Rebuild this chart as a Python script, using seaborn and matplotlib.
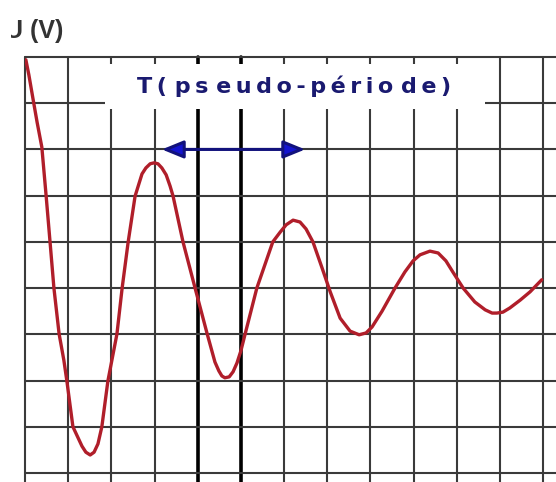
import matplotlib
matplotlib.use("Agg")
import matplotlib.pyplot as plt
from matplotlib.patches import Rectangle
import seaborn as sns
import pandas as pd

# ---- data (grid divisions) ----
t = [0.02, 0.09, 0.19, 0.28, 0.39, 0.49, 0.58, 0.67, 0.79, 0.90, 0.97, 1.11,
     1.23, 1.32, 1.41, 1.51, 1.60, 1.69, 1.78, 1.92, 2.13, 2.25, 2.39, 2.55,
     2.71, 2.80, 2.90, 2.99, 3.08, 3.17, 3.27, 3.36, 3.43, 3.66, 3.94, 4.22,
     4.40, 4.49, 4.56, 4.63, 4.73, 4.82, 4.91, 5.00, 5.10, 5.37, 5.74, 5.91,
     6.05, 6.21, 6.37, 6.51, 6.67, 6.88, 7.07, 7.30, 7.53, 7.74, 7.90, 8.04,
     8.27, 8.57, 8.80, 8.99, 9.15, 9.38, 9.57, 9.75, 9.91, 10.15, 10.42, 10.66,
     10.82, 10.93, 11.07, 11.23, 11.47, 11.70, 11.97]
u = [8.94, 8.61, 8.07, 7.59, 7.05, 5.99, 5.00, 4.00, 3.01, 2.44, 1.99, 1.00,
     0.76, 0.58, 0.45, 0.39, 0.45, 0.63, 1.00, 1.99, 3.01, 4.00, 5.00, 5.99,
     6.47, 6.60, 6.69, 6.71, 6.69, 6.60, 6.45, 6.21, 5.99, 5.00, 4.00, 3.01,
     2.40, 2.21, 2.10, 2.06, 2.08, 2.19, 2.38, 2.64, 3.01, 4.00, 5.00, 5.21,
     5.37, 5.47, 5.43, 5.28, 5.00, 4.44, 3.92, 3.35, 3.07, 2.99, 3.03, 3.16,
     3.50, 4.00, 4.35, 4.59, 4.72, 4.80, 4.76, 4.59, 4.35, 4.00, 3.70, 3.53,
     3.46, 3.46, 3.48, 3.57, 3.74, 3.92, 4.18]
period_start = 3.17
period_end = 6.49
period_level = 7.0
title_text = "T( ps eudo-pério de)"
ylabel_text = "U (V)"
x_grid = list(range(0, 13))
y_grid = list(range(0, 10))
thick_x = [4, 5]

df = pd.DataFrame({"t": t, "u": u})

sns.set_theme(style="white")
plt.rcParams['font.family'] = ['DejaVu Sans']

fig = plt.figure(figsize=(5.56, 4.82), dpi=100)
ax = fig.add_axes([25 / 556, 0, 531 / 556, (482 - 57) / 482])
ax.set_xlim(0, 531 / 43.17)
ax.set_ylim(-9 / 46.22, 9)
for s in ax.spines.values():
    s.set_visible(False)
ax.set_xticks([])
ax.set_yticks([])

grid_col = "#3a3a3a"
for xv in x_grid:
    if xv in thick_x:
        ax.axvline(xv, color="#000000", lw=2.6, zorder=1, clip_on=False)
    else:
        ax.axvline(xv, color=grid_col, lw=1.5, zorder=1, clip_on=False)
for yv in y_grid:
    ax.axhline(yv, color=grid_col, lw=1.5, zorder=1, clip_on=False)

# title box
ax.add_patch(Rectangle((80 / 43.17, (473 - 109) / 46.22), 380 / 43.17,
                       45 / 46.22, facecolor="white", edgecolor="none",
                       zorder=2))
# widen letter spacing with thin spaces between adjacent glyphs
spaced = ""
for i, ch in enumerate(title_text):
    spaced += ch
    if i + 1 < len(title_text) and ch != " " and title_text[i + 1] != " ":
        spaced += "\u2009"
ax.text(6.24, 8.36, spaced, ha="center", va="center", fontsize=16,
        fontweight="bold", color="#1a1a70", zorder=3)

sns.lineplot(data=df, x="t", y="u", sort=False, estimator=None, ax=ax,
             color="#b01e2a", lw=2.4, zorder=4)
for ln in ax.get_lines()[-1:]:
    ln.set_solid_joinstyle("round")
    ln.set_solid_capstyle("round")
ax.set_xlabel("")
ax.set_ylabel("")

ax.annotate("", xy=(period_end, period_level), xytext=(period_start, period_level),
            arrowprops=dict(arrowstyle="<|-|>,head_length=1.1,head_width=0.45",
                            fc="#1414d0", ec="#12127c", lw=2.2,
                            shrinkA=0, shrinkB=0),
            zorder=5)

fig.text(63 / 556, (482 - 31) / 482, ylabel_text, ha="right", va="center",
         fontsize=18, fontweight="bold", color="#333333",
         family=["Liberation Sans", "DejaVu Sans"], zorder=1)
# the reference image is cropped on its left edge, cutting the label's first glyph
fig.patches.append(Rectangle((0, 0.85), 11 / 556, 0.15, transform=fig.transFigure,
                             facecolor="white", edgecolor="none", zorder=5,
                             figure=fig))

fig.savefig("out.png", dpi=100)
